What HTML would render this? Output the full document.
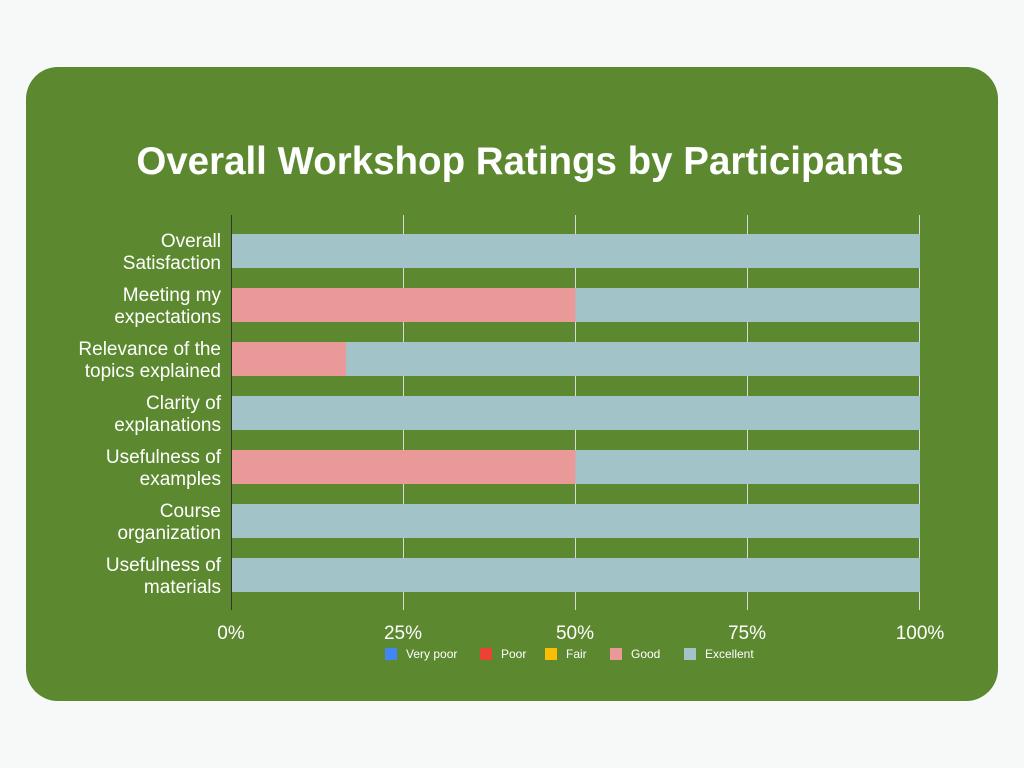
<!DOCTYPE html>
<html><head><style>
body{margin:0;background:#f7f9f9;width:1024px;height:768px;overflow:hidden;font-family:"Liberation Sans",Arial,sans-serif}
</style></head><body>
<svg width="1024" height="768" xmlns="http://www.w3.org/2000/svg" style="position:absolute;left:0;top:0">
<rect x="26" y="67" width="972" height="634" rx="32" fill="#5c892f"/>
<text x="520" y="174" text-anchor="middle" font-family="Liberation Sans,Arial,sans-serif" font-weight="bold" font-size="38.5" fill="#fff">Overall Workshop Ratings by Participants</text>
<g stroke="#d9d9d9" stroke-width="1">
<line x1="403.5" y1="215" x2="403.5" y2="610"/>
<line x1="575.5" y1="215" x2="575.5" y2="610"/>
<line x1="747.5" y1="215" x2="747.5" y2="610"/>
<line x1="919.5" y1="215" x2="919.5" y2="610"/>
</g>
<g fill="#a2c4c9">
<rect x="231" y="234" width="689" height="34"/>
<rect x="231" y="288" width="689" height="34"/>
<rect x="231" y="342" width="689" height="34"/>
<rect x="231" y="396" width="689" height="34"/>
<rect x="231" y="450" width="689" height="34"/>
<rect x="231" y="504" width="689" height="34"/>
<rect x="231" y="558" width="689" height="34"/>
</g>
<g fill="#ea9999">
<rect x="231" y="288" width="344.5" height="34"/>
<rect x="231" y="342" width="115" height="34"/>
<rect x="231" y="450" width="344.5" height="34"/>
</g>
<line x1="231.5" y1="215" x2="231.5" y2="610" stroke="#333" stroke-width="1"/>
<g font-family="Liberation Sans,Arial,sans-serif" font-size="19" fill="#fff" text-anchor="end">
<text x="221" y="247">Overall</text><text x="221" y="269">Satisfaction</text>
<text x="221" y="301">Meeting my</text><text x="221" y="323">expectations</text>
<text x="221" y="355">Relevance of the</text><text x="221" y="377">topics explained</text>
<text x="221" y="409">Clarity of</text><text x="221" y="431">explanations</text>
<text x="221" y="463">Usefulness of</text><text x="221" y="485">examples</text>
<text x="221" y="517">Course</text><text x="221" y="539">organization</text>
<text x="221" y="571">Usefulness of</text><text x="221" y="593">materials</text>
</g>
<g font-family="Liberation Sans,Arial,sans-serif" font-size="19" fill="#fff" text-anchor="middle">
<text x="231" y="639">0%</text><text x="403" y="639">25%</text><text x="575" y="639">50%</text><text x="747" y="639">75%</text><text x="920" y="639">100%</text>
</g>
<g font-family="Liberation Sans,Arial,sans-serif" font-size="12" fill="#fff">
<rect x="385" y="648" width="12" height="12" fill="#4285f4"/><text x="406" y="658">Very poor</text>
<rect x="480" y="648" width="12" height="12" fill="#ea4335"/><text x="501" y="658">Poor</text>
<rect x="545" y="648" width="12" height="12" fill="#fbbc04"/><text x="566" y="658">Fair</text>
<rect x="610" y="648" width="12" height="12" fill="#ea9999"/><text x="631" y="658">Good</text>
<rect x="684" y="648" width="12" height="12" fill="#a2c4c9"/><text x="705" y="658">Excellent</text>
</g>
</svg>
</body></html>
